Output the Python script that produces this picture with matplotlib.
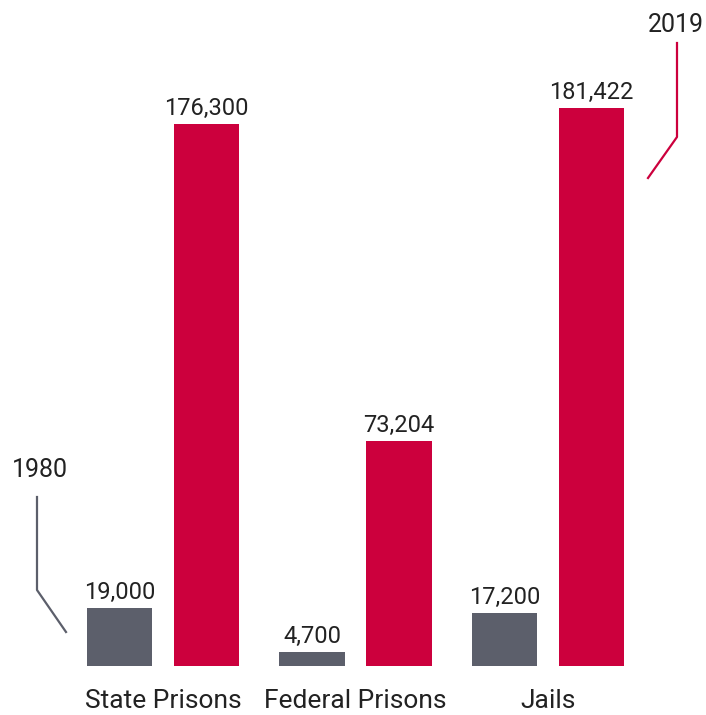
import matplotlib.pyplot as plt
import numpy as np

plt.rcParams["font.family"] = ["Roboto", "DejaVu Sans"]

categories = ["State Prisons", "Federal Prisons", "Jails"]
vals_1980 = [19000, 4700, 17200]
vals_2019 = [176300, 73204, 181422]
labels_1980 = ["19,000", "4,700", "17,200"]
labels_2019 = ["176,300", "73,204", "181,422"]

GRAY = "#5c5f6b"
RED = "#cc003d"
TXT = "#222222"

W, H = 706, 715
fig = plt.figure(figsize=(W / 100, H / 100), dpi=100)
ax = fig.add_axes([0, 49 / H, 1, 617 / H])

x = np.arange(len(categories))
off = 0.226
bw = 0.338
ax.bar(x - off, vals_1980, bw, color=GRAY)
ax.bar(x + off, vals_2019, bw, color=RED)

for i in range(len(categories)):
    ax.text(x[i] - off, vals_1980[i] + 1300, labels_1980[i], ha="center", va="bottom",
            fontsize=17, color=TXT)
    ax.text(x[i] + off, vals_2019[i] + 1300, labels_2019[i], ha="center", va="bottom",
            fontsize=17, color=TXT)
    ax.text(x[i], -7600, categories[i], ha="center", va="top", fontsize=19, color=TXT,
            clip_on=False)

ax.set_xlim(-0.847, 2.821)
ax.set_ylim(0, 617 / 0.003076)
ax.axis("off")

# year callouts (figure pixel coords, y from top)
def fx(px):
    return px / W

def fy(py):
    return 1 - py / H

fig.add_artist(plt.Line2D([fx(37), fx(37), fx(66)], [fy(497), fy(590), fy(632)],
                          color=GRAY, lw=1.6))
fig.text(fx(40), fy(470), "1980", ha="center", va="center", fontsize=18, color=TXT)
fig.add_artist(plt.Line2D([fx(677), fx(677), fx(648)], [fy(43), fy(137), fy(178)],
                          color=RED, lw=1.6))
fig.text(fx(676), fy(25), "2019", ha="center", va="center", fontsize=18, color=TXT)

fig.savefig("out.png", dpi=100)
